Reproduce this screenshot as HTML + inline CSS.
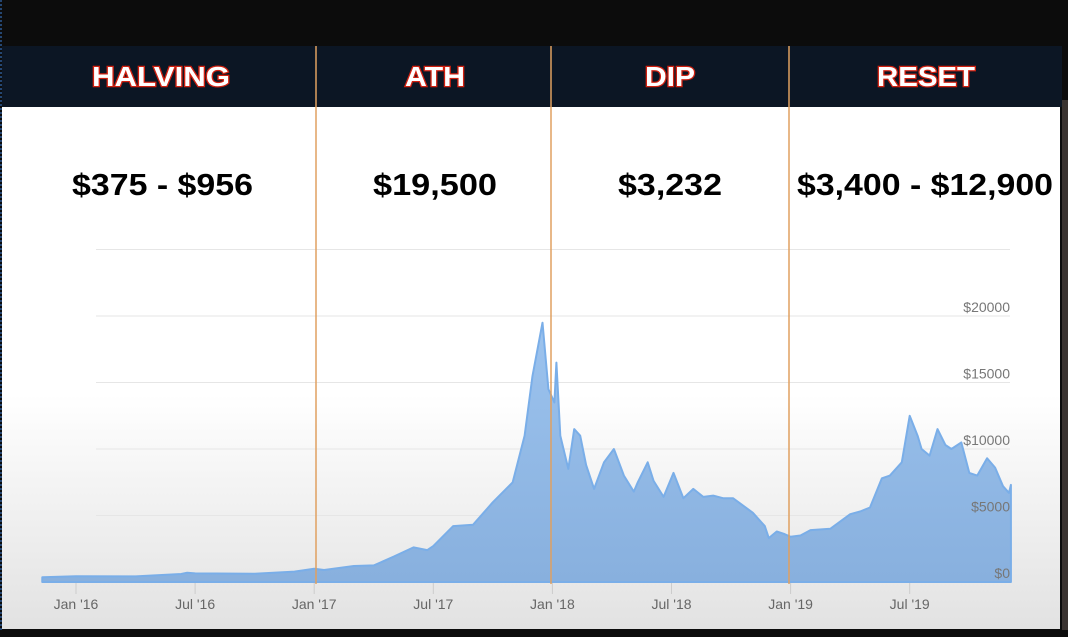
<!DOCTYPE html>
<html><head><meta charset="utf-8"><style>
html,body{margin:0;padding:0;width:1068px;height:637px;overflow:hidden;background:#0c0c0c}
text{font-family:"Liberation Sans",Arial,sans-serif}
</style></head><body>
<svg width="1068" height="637" viewBox="0 0 1068 637">
<defs>
<linearGradient id="bg" x1="0" y1="0" x2="0" y2="1">
<stop offset="0" stop-color="#ffffff"/><stop offset="0.55" stop-color="#ffffff"/><stop offset="1" stop-color="#e2e2e2"/>
</linearGradient>
<linearGradient id="fillg" x1="0" y1="0" x2="0" y2="1">
<stop offset="0" stop-color="#9cc3ee"/><stop offset="1" stop-color="#88b0de"/>
</linearGradient>
</defs>
<rect x="0" y="0" width="1068" height="637" fill="#0c0c0c"/>
<rect x="1062" y="100" width="6" height="530" fill="#3a3330"/>
<rect x="2" y="107" width="1058" height="522" fill="url(#bg)"/>
<line x1="1" y1="0" x2="1" y2="630" stroke="#3b7fd9" stroke-dasharray="2,2" stroke-width="1"/>
<rect x="2" y="46" width="1060" height="61" fill="#0c1624"/>
<g id="grid"></g>
<g id="area"></g>
<g id="axes"></g>
<g>
<line x1="316" y1="46" x2="316" y2="584" stroke="#e0a060" stroke-width="1.5"/>
<line x1="551" y1="46" x2="551" y2="584" stroke="#e0a060" stroke-width="1.5"/>
<line x1="789" y1="46" x2="789" y2="584" stroke="#e0a060" stroke-width="1.5"/>
</g>
<g font-weight="bold" font-size="28" fill="#fff" stroke="#d02010" stroke-width="2.5" paint-order="stroke" lengthAdjust="spacingAndGlyphs">
<text x="92" y="86" textLength="138" lengthAdjust="spacingAndGlyphs">HALVING</text>
<text x="405" y="86" textLength="60" lengthAdjust="spacingAndGlyphs">ATH</text>
<text x="645" y="86" textLength="50" lengthAdjust="spacingAndGlyphs">DIP</text>
<text x="877" y="86" textLength="98" lengthAdjust="spacingAndGlyphs">RESET</text>
</g>
<g font-weight="bold" font-size="31" fill="#000">
<text x="72" y="195" textLength="181" lengthAdjust="spacingAndGlyphs">$375 - $956</text>
<text x="373" y="195" textLength="124" lengthAdjust="spacingAndGlyphs">$19,500</text>
<text x="618" y="195" textLength="104" lengthAdjust="spacingAndGlyphs">$3,232</text>
<text x="797" y="195" textLength="256" lengthAdjust="spacingAndGlyphs">$3,400 - $12,900</text>
</g>
</svg>
<script>
// months since Jan 2016
const months=[-1.7,0,3,5.3,5.6,6,9,11,12,12.5,14,15,16,17,17.7,18,19,20,21,22,22.6,23,23.5,23.8,24.1,24.2,24.4,24.8,25.1,25.4,25.7,26.1,26.6,27.1,27.6,28.1,28.3,28.8,29.1,29.6,30.1,30.6,31.1,31.6,32.1,32.6,33.1,34.1,34.7,34.9,35.3,35.7,36,36.5,37,38,39,39.5,40,40.6,41,41.6,42,42.4,42.6,43,43.4,43.8,44.1,44.6,45,45.4,45.9,46.3,46.7,47,47.1];
const prices=[350,430,420,600,700,650,620,780,1000,900,1200,1250,1900,2600,2400,2700,4200,4300,6000,7500,11000,15500,19500,14500,13500,16500,11000,8500,11500,11000,8800,7000,9000,10000,8000,6800,7500,9000,7600,6400,8200,6300,7000,6400,6500,6300,6300,5200,4200,3300,3800,3600,3400,3500,3900,4000,5100,5300,5600,7800,8000,9000,12500,11000,10000,9500,11500,10300,10000,10500,8200,8000,9300,8600,7200,6700,7300];
const yTicks=[0,5000,10000,15000,20000,25000];
const yTickLabels=['$0','$5000','$10000','$15000','$20000',''];
const xTickMonths=[0,6,12,18,24,30,36,42];
const xTickLabels=["Jan '16","Jul '16","Jan '17","Jul '17","Jan '18","Jul '18","Jan '19","Jul '19"];
const NS='http://www.w3.org/2000/svg';
const x=m=>76+m*19.85;
const y=v=>582-v*(266/20000);
const grid=document.getElementById('grid'),area=document.getElementById('area'),axes=document.getElementById('axes');
yTicks.forEach((t,i)=>{
  const l=document.createElementNS(NS,'line');
  
  
  l.setAttribute('x1',96);l.setAttribute('x2',1010);l.setAttribute('y1',y(t));l.setAttribute('y2',y(t));
  l.setAttribute('stroke',i==0?'#cfcfcf':'#e6e6e6');l.setAttribute('stroke-width',1);
  grid.appendChild(l);
});
let d='M'+x(months[0])+','+y(0);
months.forEach((m,i)=>{d+=' L'+x(m).toFixed(1)+','+y(prices[i]).toFixed(1);});
d+=' L'+x(months[months.length-1])+','+y(0)+' Z';
const p=document.createElementNS(NS,'path');


p.setAttribute('d',d);p.setAttribute('fill','url(#fillg)');p.setAttribute('stroke','#7aaee8');p.setAttribute('stroke-width','2');p.setAttribute('stroke-linejoin','round');
area.appendChild(p);
yTicks.forEach((t,i)=>{
  if(!yTickLabels[i])return;
  const tx=document.createElementNS(NS,'text');
  
  
  tx.setAttribute('x',1010);tx.setAttribute('y',y(t)-4);tx.setAttribute('text-anchor','end');
  tx.setAttribute('font-size','14');tx.setAttribute('fill','#777');
  tx.textContent=yTickLabels[i];axes.appendChild(tx);
});
xTickMonths.forEach((m,i)=>{
  const l=document.createElementNS(NS,'line');
  
  
  l.setAttribute('x1',x(m));l.setAttribute('x2',x(m));l.setAttribute('y1',583);l.setAttribute('y2',594);
  l.setAttribute('stroke','#ccc');axes.appendChild(l);
  const tx=document.createElementNS(NS,'text');
  
  
  tx.setAttribute('x',x(m));tx.setAttribute('y',609);tx.setAttribute('text-anchor','middle');
  tx.setAttribute('font-size','14');tx.setAttribute('fill','#666');
  tx.textContent=xTickLabels[i];axes.appendChild(tx);
});
</script>
</body></html>
